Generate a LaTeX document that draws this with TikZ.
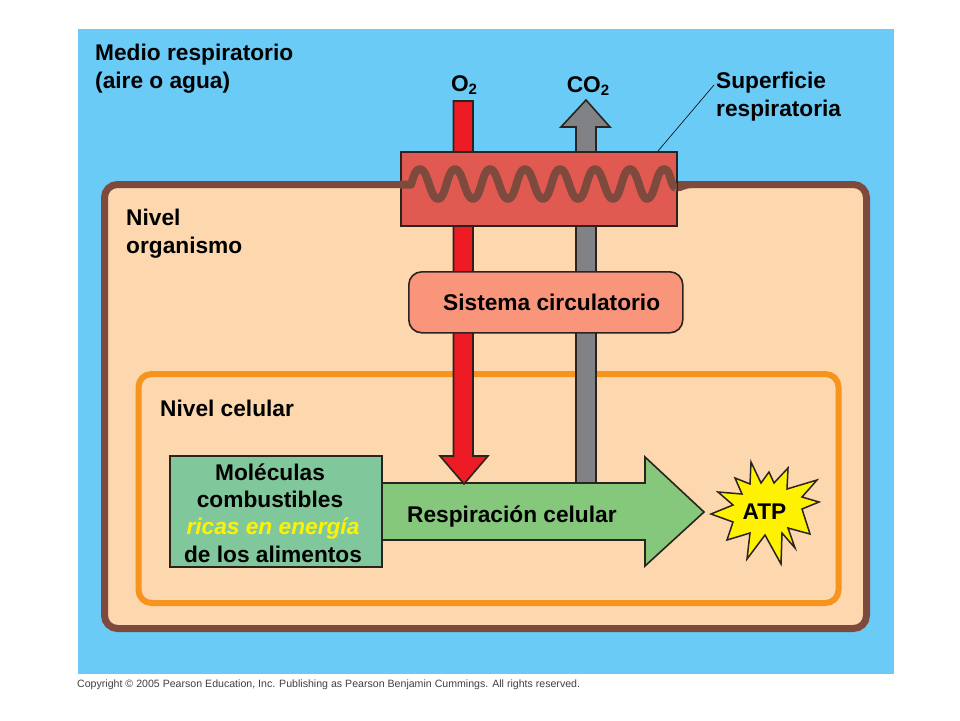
\documentclass[tikz,border=0pt]{standalone}
\usepackage{fontspec}
\setmainfont{Liberation Sans}
\usetikzlibrary{shapes.geometric}
\definecolor{skyb}{HTML}{6BCBF7}
\definecolor{peach}{HTML}{FDD7AE}
\definecolor{brownl}{HTML}{7F4A3E}
\definecolor{orangel}{HTML}{F7941E}
\definecolor{redbox}{HTML}{E05A52}
\definecolor{redarrow}{HTML}{ED1C24}
\definecolor{grayarrow}{HTML}{808285}
\definecolor{circ}{HTML}{F9957A}
\definecolor{greenbox}{HTML}{80C89B}
\definecolor{greenarrow}{HTML}{85C77B}
\definecolor{edgedark}{HTML}{2A2320}
\newcommand{\subtwo}{\raisebox{-0.32ex}{\fontsize{15}{15}\selectfont 2}}
\tikzset{
  lbl/.style={font=\fontsize{22.7}{28}\selectfont\bfseries, text=black, inner sep=0pt, align=left, anchor=west},
  lblb/.style={font=\fontsize{22.7}{28}\selectfont\bfseries, text=black, inner sep=0pt, anchor=base west},
  lblc/.style={font=\fontsize{22.7}{28}\selectfont\bfseries, text=black, inner sep=0pt, anchor=base},
  outlined/.style={draw=edgedark, line width=1.6pt, line join=miter},
  leader/.style={draw=black, line width=0.6pt}
}
\begin{document}
\begin{tikzpicture}[x=1pt,y=-1pt]
\useasboundingbox (0,0) rectangle (960,720);
\fill[white] (0,0) rectangle (960,720);
\fill[skyb] (78,29) rectangle (894,674);
% organism
\draw[draw=brownl, fill=peach, line width=7pt, rounded corners=13pt] (104.5,184.5) rectangle (866.5,628.5);
\draw[draw=orangel, line width=6pt, rounded corners=13pt] (138.5,374) rectangle (838.5,603);
% gray arrow
\path[outlined, fill=grayarrow] (576,484) -- (576,127) -- (561,127) -- (586,100) -- (610,127) -- (596,127) -- (596,484) -- cycle;
% green arrow
\path[outlined, fill=greenarrow] (381,483) -- (645,483) -- (645,457) -- (704,512) -- (645,566) -- (645,540) -- (381,540) -- cycle;
% red arrow
\path[outlined, fill=redarrow] (453.5,101) -- (473,101) -- (473,456) -- (488,456) -- (464,484) -- (440,456) -- (453.5,456) -- cycle;
% surface box
\node[outlined, fill=redbox, minimum width=276pt, minimum height=74pt, inner sep=0pt, anchor=north west] (surface) at (400,151) {};
% wavy membrane
\draw[brownl, line width=8pt, line join=round]
  (400,184.5) -- (411,184.5) .. controls (414,176) and (415,169) .. (420,169)
  .. controls (428,169) and (430,199) .. (438,199)
  .. controls (446,199) and (447,169) .. (455,169)
  .. controls (463,169) and (465,199) .. (473,199)
  .. controls (481,199) and (482,169) .. (490,169)
  .. controls (498,169) and (500,199) .. (508,199)
  .. controls (516,199) and (517,169) .. (525,169)
  .. controls (533,169) and (535,199) .. (543,199)
  .. controls (551,199) and (552,169) .. (560,169)
  .. controls (568,169) and (570,199) .. (578,199)
  .. controls (586,199) and (587,169) .. (595,169)
  .. controls (603,169) and (605,199) .. (613,199)
  .. controls (621,199) and (622,169) .. (630,169)
  .. controls (638,169) and (640,199) .. (647,199)
  .. controls (655,199) and (656,169) .. (664,169)
  .. controls (671,169) and (670,187) .. (676,188);
\draw[brownl, line width=7pt] (676,188) .. controls (682,188) and (684,184.5) .. (692,184.5);
\draw[edgedark, line width=1.6pt] (surface.north east) -- (surface.south east);
% circulatory system
\node[draw=edgedark, line width=1.6pt, fill=circ, rounded corners=13pt, minimum width=274pt, minimum height=61pt, inner sep=0pt, anchor=north west] (circsys) at (408,271) {};
\node[lblb] (circtext) at (443,310) {Sistema circulatorio};
% fuel box
\node[outlined, fill=greenbox, minimum width=212pt, minimum height=111pt, inner sep=0pt, anchor=north west] (fuel) at (169,455) {};
\node[lblc] (m1) at (270,480) {Moléculas};
\node[lblc] (m2) at (270,507) {combustibles};
\node[lblc, text=yellow, font=\fontsize{22.7}{28}\selectfont\bfseries\itshape] (m3) at (273,534.5) {ricas en energía};
\node[lblc] (m4) at (273,562.5) {de los alimentos};
\node[lblb] (resp) at (407,522) {Respiración celular};
% ATP star
\path[draw=edgedark, line width=1.5pt, fill=yellow, line join=miter] (751,462) -- (761,483) -- (769,472) -- (774,483) -- (788,468) -- (787,489) -- (817,480) -- (802,497) -- (819,502) -- (802,509) -- (810,534) -- (788,528) -- (795,548) -- (782,533) -- (781,564) -- (765,535) -- (747,559) -- (750,533) -- (727,540) -- (733,522) -- (711,514) -- (733,505) -- (718,492) -- (742,494) -- (735,478) -- (750,484) -- cycle;
\node[lblc] (atp) at (764.5,519) {ATP};
% labels
\node[lbl] (medio) at (95,69) {Medio respiratorio\\(aire o agua)};
\node[lbl] (nivelorg) at (126,234) {Nivel\\organismo};
\node[lblb] (nivelcel) at (160,416) {Nivel celular};
\node[lblc] (o2) at (464,91) {O\subtwo};
\node[lblc] (co2) at (588,92) {CO\subtwo};
\node[lbl] (sup) at (716,96.5) {Superficie\\respiratoria};
\coordinate (leadstart) at (714,85);
\coordinate (leadend) at (658,151);
\draw[leader] (leadstart) -- (leadend);
\node[font=\fontsize{10.6}{11}\selectfont, text=black!75, inner sep=0pt, anchor=west] (copy) at (77,684.5) {Copyright © 2005 Pearson Education, Inc. Publishing as Pearson Benjamin Cummings. All rights reserved.};
\end{tikzpicture}
\end{document}
